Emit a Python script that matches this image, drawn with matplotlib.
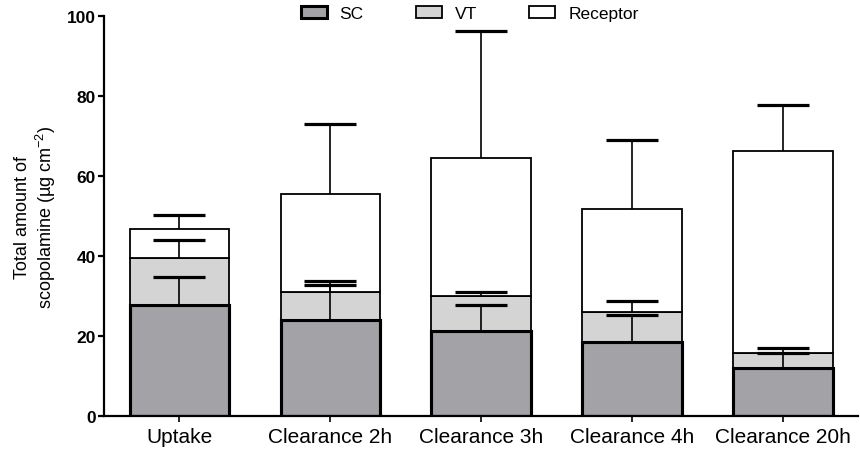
import numpy as np
import matplotlib.pyplot as plt

plt.rcParams["font.family"] = ["Liberation Sans", "DejaVu Sans"]

# groups on the x axis
groups = ["Uptake", "Clearance 2h", "Clearance 3h", "Clearance 4h", "Clearance 20h"]

# stacked means (µg cm-2) and upper error values
sc = [27.7, 24.1, 21.3, 18.6, 12.1]
sc_err = [7.0, 8.6, 6.4, 6.7, 3.6]
vt = [11.7, 6.8, 8.8, 7.5, 3.65]
vt_err = [4.7, 2.85, 0.8, 2.6, 1.15]
receptor = [7.35, 24.5, 34.3, 25.65, 50.5]
receptor_err = [3.5, 17.6, 31.85, 17.15, 11.5]

fig = plt.figure(figsize=(8.6, 4.52), dpi=100)
ax = fig.add_axes([0.121, 0.0774, 0.877, 0.885])

x = np.arange(len(groups))
w = 0.66
sc = np.array(sc)
vt = np.array(vt)
receptor = np.array(receptor)

b1 = ax.bar(x, sc, w, color="#a3a2a7", edgecolor="black", linewidth=2.2, label="SC", zorder=2)
b2 = ax.bar(x, vt, w, bottom=sc, color="#d4d4d4", edgecolor="black", linewidth=1.3, label="VT", zorder=2)
b3 = ax.bar(x, receptor, w, bottom=sc + vt, color="white", edgecolor="black", linewidth=1.3,
            label="Receptor", zorder=2)
# redraw SC edges on top so the thick border is visible
ax.bar(x, sc, w, color="none", edgecolor="black", linewidth=2.2, zorder=3)

# upper-only error bars
for tops, err in [(sc, sc_err), (sc + vt, vt_err), (sc + vt + receptor, receptor_err)]:
    eb = ax.errorbar(x, tops, yerr=[np.zeros(len(err)), err], fmt="none", ecolor="black",
                     elinewidth=1.2, capsize=19, capthick=2.3, zorder=4)
    eb[1][0].set_visible(False)

ax.set_xlim(-0.5, 4.5)
ax.set_ylim(0, 100)
ax.set_yticks([0, 20, 40, 60, 80, 100])
ax.set_xticks(x)
ax.set_xticklabels(groups, fontsize=15)
for lab in ax.get_yticklabels():
    lab.set_fontweight("bold")
    lab.set_fontsize(12.5)
ax.spines["top"].set_visible(False)
ax.spines["right"].set_visible(False)
ax.spines["left"].set_linewidth(1.6)
ax.spines["bottom"].set_linewidth(1.6)
ax.tick_params(axis="y", width=1.6, length=4, pad=2)
ax.tick_params(axis="x", width=1.2, length=4, pad=4)

ax.set_ylabel("Total amount of\nscopolamine (µg cm$^{\\mathregular{-2}}$)", fontsize=13, labelpad=6)

fig.legend(handles=[b1, b2, b3], labels=["SC", "VT", "Receptor"], loc="center",
           bbox_to_anchor=(0.546, 0.967), ncol=3, frameon=False, fontsize=12.5,
           handlelength=1.5, handleheight=0.7, columnspacing=3.0, handletextpad=0.75)

plt.savefig("out.png", dpi=100)
